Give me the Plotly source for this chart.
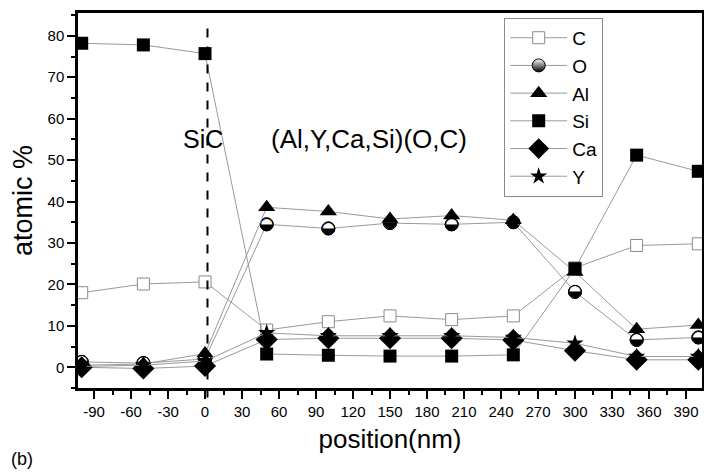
import plotly.graph_objects as go

positions = [-100, -50, 0, 50, 100, 150, 200, 250, 300, 350, 400]
C_vals  = [18.0, 20.1, 20.6, 9.0, 11.0, 12.4, 11.5, 12.4, 24.0, 29.4, 29.8]
O_vals  = [1.3, 1.0, 2.0, 34.5, 33.5, 34.8, 34.5, 35.0, 18.2, 6.6, 7.2]
Al_vals = [0.5, 0.8, 3.3, 38.6, 37.6, 35.8, 36.6, 35.5, 23.0, 9.2, 10.2]
Si_vals = [78.2, 77.8, 75.7, 3.2, 2.9, 2.7, 2.7, 3.0, 23.8, 51.2, 47.3]
Ca_vals = [0.0, -0.3, 0.3, 6.7, 7.0, 7.0, 7.0, 6.6, 4.0, 1.8, 1.8]
Y_vals  = [0.2, 0.5, 1.5, 8.3, 7.6, 7.6, 7.6, 7.2, 5.8, 2.6, 2.6]
x_ticks = list(range(-90, 391, 30))
y_ticks = list(range(0, 81, 10))

FONT = "Liberation Sans, Arial, sans-serif"
LINE = "#9a9a9a"

fig = go.Figure()

def add(name, vals, symbol, size, color="black", lcolor="black", lwidth=0, gradient=None):
    m = dict(symbol=symbol, size=size, color=color, line=dict(color=lcolor, width=lwidth))
    if gradient:
        m["gradient"] = gradient
    fig.add_trace(go.Scatter(x=positions, y=vals, name=name, mode="lines+markers",
                             line=dict(color=LINE, width=1), marker=m))

add("C", C_vals, "square", 12, color="white", lcolor="#8a8a8a", lwidth=1)
add("O", O_vals, "circle", 13, color="white", lcolor="black", lwidth=1,
    gradient=dict(type="vertical", color="black"))
# half-filled circle glyphs for O on top of white discs
fig.add_trace(go.Scatter(x=positions, y=O_vals, mode="markers+text", showlegend=False,
                         marker=dict(symbol="circle", size=13, color="white",
                                     line=dict(color="black", width=1)),
                         text=["◒"] * len(O_vals), textposition="middle center",
                         textfont=dict(family="DejaVu Sans", size=17, color="black"),
                         hoverinfo="skip"))
add("Al", Al_vals, "triangle-up", 15)
add("Si", Si_vals, "square", 13)
add("Ca", Ca_vals, "diamond", 17)
add("Y", Y_vals, "star", 13)

fig.add_shape(type="line", xref="x", yref="paper", x0=2, x1=2, y0=-0.025, y1=0.98,
              line=dict(color="black", width=2, dash="dash"))

fig.add_annotation(x=-2, y=55, xref="x", yref="y", text="SiC", showarrow=False,
                   font=dict(family=FONT, size=25, color="black"))
fig.add_annotation(x=133, y=55, xref="x", yref="y", text="(Al,Y,Ca,Si)(O,C)", showarrow=False,
                   font=dict(family=FONT, size=26, color="black"))
fig.add_annotation(x=-0.09, y=-0.19, xref="paper", yref="paper", text="(b)", showarrow=False,
                   xanchor="center", yanchor="middle",
                   font=dict(family=FONT, size=18, color="black"))

fig.update_layout(
    width=704, height=464,
    margin=dict(l=70, r=10, t=2, b=84),
    paper_bgcolor="white", plot_bgcolor="white",
    font=dict(family=FONT, color="black"),
    showlegend=True,
    legend=dict(x=0.683, y=0.987, xanchor="left", yanchor="top",
                bordercolor="#8a8a8a", borderwidth=1, bgcolor="white",
                font=dict(family=FONT, size=19, color="black"),
                itemwidth=57, tracegroupgap=0),
    xaxis=dict(range=[-103, 403], tickvals=x_ticks, ticktext=[str(v) for v in x_ticks],
               ticks="outside", ticklen=8, tickwidth=2, tickcolor="black",
               minor=dict(dtick=15, tick0=0, ticks="outside", ticklen=4, tickwidth=2, tickcolor="black"),
               showline=True, linewidth=2.5, linecolor="black", mirror=True,
               showgrid=False, zeroline=False,
               tickfont=dict(family=FONT, size=15),
               title=dict(text="position(nm)", font=dict(family=FONT, size=26), standoff=12)),
    yaxis=dict(range=[-5, 85.5], tickvals=y_ticks,
               ticks="outside", ticklen=8, tickwidth=2, tickcolor="black",
               minor=dict(dtick=5, tick0=0, ticks="outside", ticklen=4, tickwidth=2, tickcolor="black"),
               showline=True, linewidth=2.5, linecolor="black", mirror=True,
               showgrid=False, zeroline=False,
               tickfont=dict(family=FONT, size=15),
               title=dict(text="atomic %", font=dict(family=FONT, size=27), standoff=12)),
)

fig.write_html("out.html")
